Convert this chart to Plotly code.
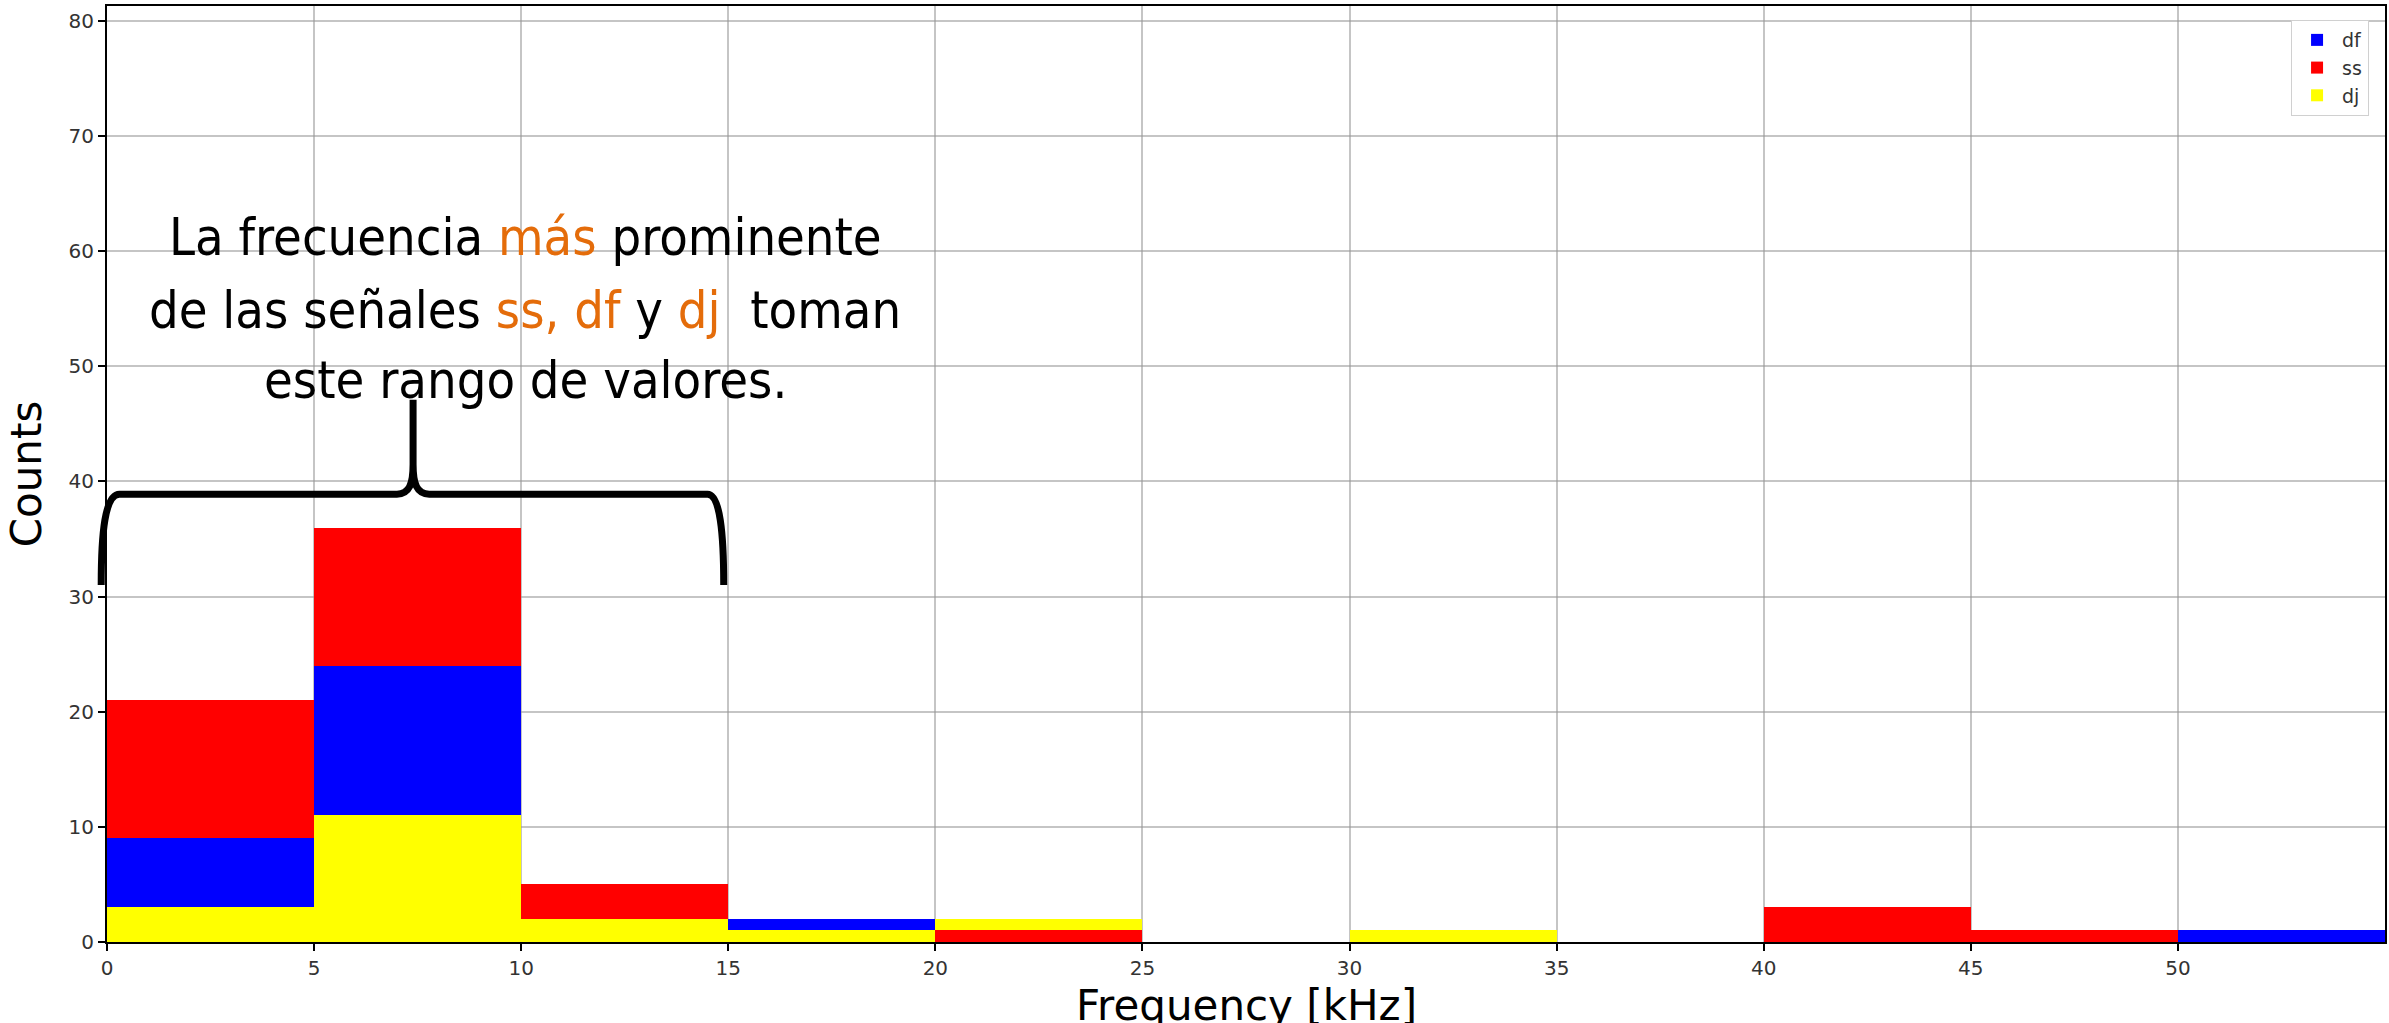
import plotly.graph_objects as go

# histogram bins (kHz), width 5
bin_left = [0, 5, 10, 15, 20, 25, 30, 35, 40, 45, 50]
bin_width = 5

# counts per bin for each signal
df_counts = [6, 13, 0, 1, 0, 0, 0, 0, 0, 0, 1]
ss_counts = [12, 12, 3, 0, 1, 0, 0, 0, 3, 1, 0]
dj_counts = [3, 11, 2, 1, 1, 0, 1, 0, 0, 0, 0]

series_names = ["df", "ss", "dj"]
series_colors = {"df": "#0000ff", "ss": "#ff0000", "dj": "#ffff00"}

# bottom-to-top stacking of the segments in each bin
stack_order = [["dj", "df", "ss"] for _ in bin_left]
stack_order[4] = ["ss", "dj", "df"]

x_ticks = [0, 5, 10, 15, 20, 25, 30, 35, 40, 45, 50]
y_ticks = [0, 10, 20, 30, 40, 50, 60, 70, 80]
x_range = [0, 55]

counts = {"df": df_counts, "ss": ss_counts, "dj": dj_counts}
centers = [b + bin_width / 2 for b in bin_left]

# base of every segment from the stacking order
bases = {name: [0] * len(bin_left) for name in series_names}
for i, order in enumerate(stack_order):
    acc = 0
    for name in order:
        bases[name][i] = acc
        acc += counts[name][i]

fig = go.Figure()
for name in series_names:
    fig.add_trace(go.Bar(
        x=centers,
        y=counts[name],
        base=bases[name],
        width=[bin_width] * len(bin_left),
        name=name,
        marker_color=series_colors[name],
        marker_line_width=0,
    ))


def px(v):
    # data x -> paper x, so the brace is not clipped at the left axis
    return (v - x_range[0]) / (x_range[1] - x_range[0])


# curly brace over the 0-15 kHz range
brace = (f"M {px(-0.14)},31 C {px(-0.14)},35.5 {px(-0.05)},38.9 {px(0.3)},38.9 "
         f"L {px(7.0)},38.9 C {px(7.3)},38.9 {px(7.39)},39.8 {px(7.39)},41.5 L {px(7.39)},47.1 "
         f"M {px(7.39)},41.5 C {px(7.39)},39.8 {px(7.48)},38.9 {px(7.78)},38.9 "
         f"L {px(14.5)},38.9 C {px(14.8)},38.9 {px(14.89)},35.5 {px(14.89)},31")
fig.add_shape(type="path", path=brace, xref="paper", yref="y",
              line=dict(color="black", width=7))

orange = "#e46c0a"
note_font = dict(family="DejaVu Sans Condensed, DejaVu Sans",
                 size=52, color="black")
lines = [
    ("La frecuencia <span style='color:%s'>más</span> prominente" % orange, 61.2),
    ("de las señales <span style='color:%s'>ss, df</span> y "
     "<span style='color:%s'>dj</span>&nbsp; toman" % (orange, orange), 54.9),
    ("este rango de valores.", 48.8),
]
for txt, yy in lines:
    fig.add_annotation(x=10.1, y=yy, xref="x", yref="y", text=txt,
                       showarrow=False, xanchor="center", yanchor="middle",
                       font=note_font)

# x axis title, partly running off the bottom edge as in the original
fig.add_annotation(x=0.5, y=0, xref="paper", yref="paper", text="Frequency [kHz]",
                   showarrow=False, xanchor="center", yanchor="top", yshift=-37,
                   font=dict(family="DejaVu Sans", size=42, color="black"))

axis_common = dict(
    showline=True, linecolor="black", linewidth=2, mirror=True,
    ticks="outside", ticklen=7, tickwidth=2, tickcolor="black",
    showgrid=True, gridcolor="rgba(150,150,150,0.55)", gridwidth=2,
    zeroline=False, layer="above traces", automargin=False,
    tickfont=dict(family="DejaVu Sans", size=20, color="#333333"),
)

fig.update_layout(
    width=2389, height=1023,
    margin=dict(l=107, r=4, t=6, b=81),
    plot_bgcolor="white", paper_bgcolor="white",
    barmode="overlay", bargap=0,
    xaxis=dict(range=x_range, tickvals=x_ticks, **axis_common),
    yaxis=dict(range=[0, 81.3], tickvals=y_ticks,
               title=dict(text="Counts", standoff=14,
                          font=dict(family="DejaVu Sans", size=42, color="black")),
               **axis_common),
    legend=dict(x=0.993, y=0.985, xanchor="right", yanchor="top",
                bgcolor="white", bordercolor="#d0d0d0", borderwidth=1,
                font=dict(family="DejaVu Sans", size=19, color="#333333"),
                itemwidth=40),
    showlegend=True,
)

fig.write_html("out.html", config={"displayModeBar": False},
               post_script="document.body.style.margin='0';")
